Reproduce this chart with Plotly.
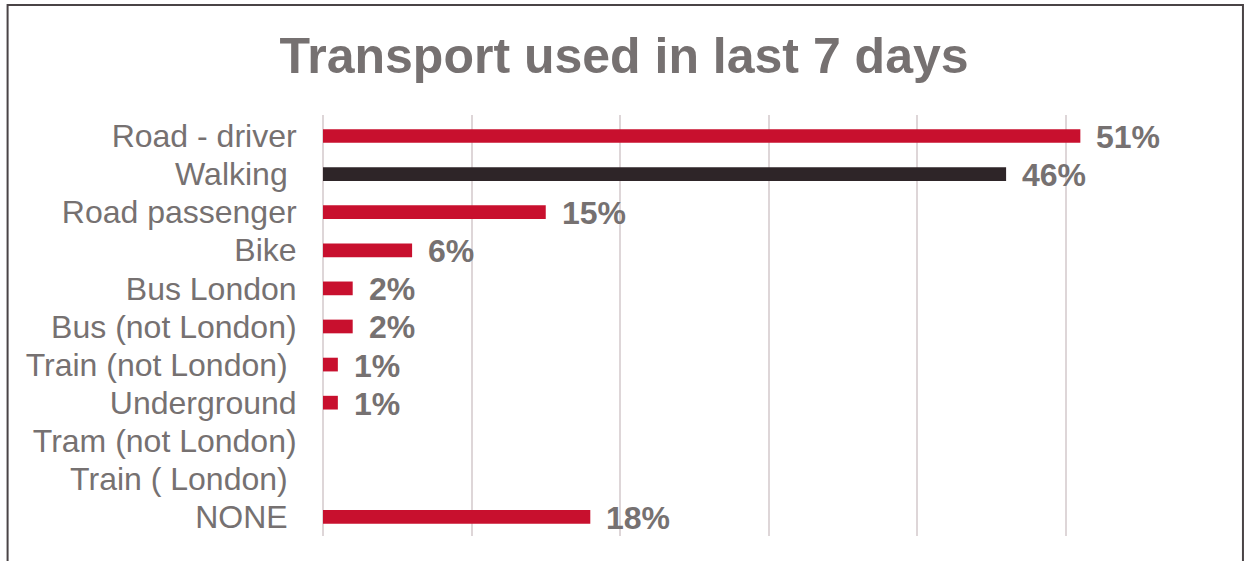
"""Transport used in last 7 days - horizontal bar chart."""

import plotly.graph_objects as go

# data
categories = ["Road - driver", "Walking\u00a0", "Road passenger", "Bike", "Bus London",
              "Bus (not London)", "Train (not London)\u00a0", "Underground",
              "Tram (not London)", "Train ( London)\u00a0", "NONE\u00a0"]
values = [51, 46, 15, 6, 2, 2, 1, 1, 0, 0, 18]
bar_colors = ["#C8102E", "#2E2528", "#C8102E", "#C8102E", "#C8102E", "#C8102E",
              "#C8102E", "#C8102E", "#C8102E", "#C8102E", "#C8102E"]
title_text = "Transport used in last 7 days"

GREY = "#767171"
FONT = "Liberation Sans, Arial, sans-serif"

fig = go.Figure()
fig.add_trace(go.Bar(x=values, y=categories, orientation='h', width=0.36,
                     marker=dict(color=bar_colors, line=dict(width=0)), hoverinfo='x+y'))

# value labels (skip zero values)
for cat, val in zip(categories, values):
    if val:
        fig.add_annotation(x=val, y=cat, text=f"<b>{val}%</b>", showarrow=False,
                           xanchor='left', yanchor='middle', xshift=14, yshift=-1,
                           font=dict(family=FONT, size=32, color=GREY))

# outer chart border
fig.add_shape(type='rect', xref='paper', yref='paper', x0=-0.354, x1=1.0325, y0=-0.2, y1=1.261,
              line=dict(color="#4A4446", width=2), fillcolor='rgba(0,0,0,0)', layer='below')

fig.update_layout(
    width=1248, height=561,
    paper_bgcolor='white', plot_bgcolor='white',
    margin=dict(l=323, r=34, t=115, b=25),
    showlegend=False,
    title=dict(text=f"<b>{title_text}</b>", x=0.5, xref='container', xanchor='center',
               y=1 - 55 / 561, yref='container', yanchor='middle',
               font=dict(family=FONT, size=50, color=GREY)),
    xaxis=dict(range=[0, 60], dtick=10, showticklabels=False, showgrid=True,
               gridcolor="#DED6D8", gridwidth=1.5, zeroline=True, zerolinecolor="#DED6D8",
               zerolinewidth=1.5, showline=False, fixedrange=True),
    yaxis=dict(autorange='reversed', showgrid=False, showline=False, zeroline=False,
               tickmode='array', tickvals=categories, ticktext=categories,
               ticks='outside', ticklen=19, tickcolor='rgba(0,0,0,0)',
               tickfont=dict(family=FONT, size=32, color=GREY), fixedrange=True),
)

fig.write_html("out.html", config={'displayModeBar': False},
               post_script="document.body.style.margin='0';")
